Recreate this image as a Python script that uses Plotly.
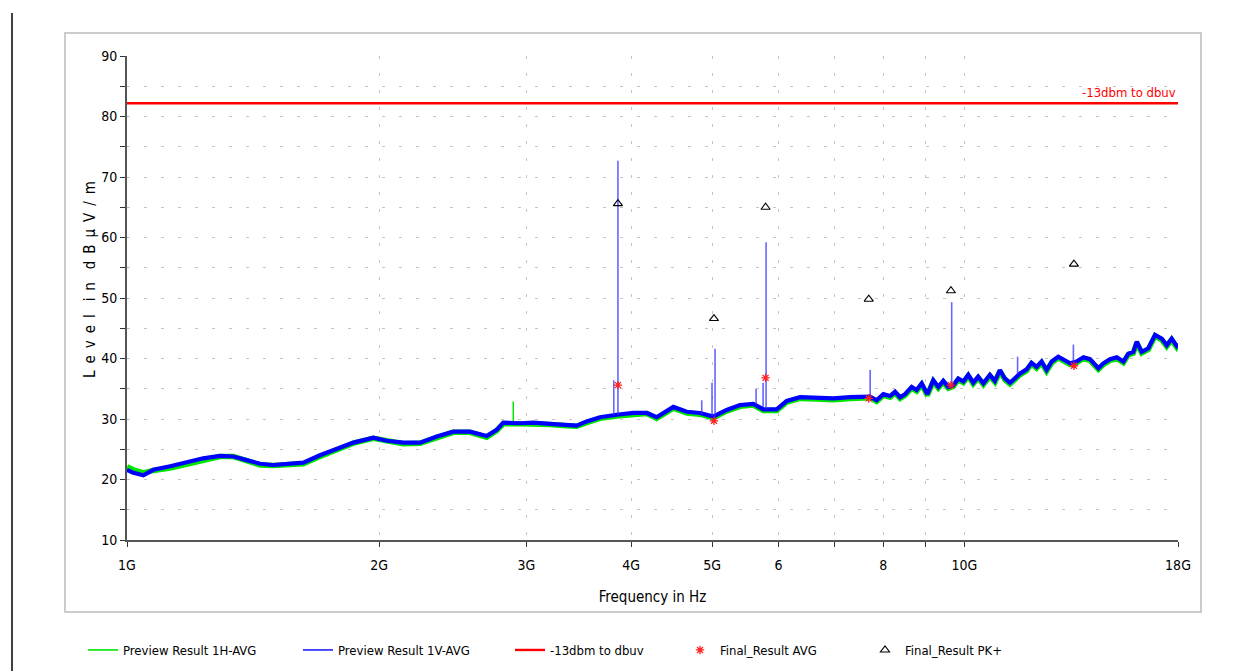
import math
import plotly.graph_objects as go

# ---- data (frequency in GHz, level in dBuV/m) ----
freq_v = [1.000, 1.0175, 1.046, 1.075, 1.126, 1.178, 1.233, 1.291, 1.34, 1.39,
          1.442, 1.495, 1.551, 1.624, 1.70, 1.78, 1.864, 1.969, 2.043, 2.138,
          2.239, 2.344, 2.453, 2.568, 2.689, 2.764, 2.815, 2.947, 3.057, 3.20,
          3.35, 3.444, 3.54, 3.672, 3.845, 4.025, 4.176, 4.292, 4.493, 4.662,
          4.834, 5.015, 5.202, 5.397, 5.598, 5.754, 5.97, 6.137, 6.366, 6.665,
          6.978,
          7.304, 7.508, 7.717, 7.859, 8.005, 8.154, 8.267, 8.381, 8.497, 8.654,
          8.773, 8.895, 9.035, 9.183, 9.311, 9.44, 9.57, 9.703, 9.837, 9.975,
          10.11, 10.25, 10.39, 10.54, 10.73, 10.88, 11.03, 11.18, 11.34, 11.49,
          11.65, 11.87, 12.03, 12.2, 12.37, 12.54, 12.72, 12.95, 13.13, 13.38,
          13.62, 13.88, 14.13, 14.46, 14.66, 14.93, 15.21, 15.49, 15.7, 15.92,
          16.07, 16.29, 16.59, 16.9, 17.21, 17.45, 17.69, 17.93, 18.0]
level_v = [21.6, 21.1, 20.7, 21.6, 22.2, 22.9, 23.5, 23.9, 23.8, 23.2,
           22.6, 22.4, 22.6, 22.8, 24.0, 25.1, 26.1, 26.9, 26.4, 26.1,
           26.1, 27.1, 27.9, 27.9, 27.2, 28.2, 29.4, 29.3, 29.4, 29.2,
           29.0, 28.9, 29.6, 30.3, 30.7, 31.0, 31.0, 30.3, 32.0, 31.2,
           31.0, 30.4, 31.5, 32.3, 32.5, 31.6, 31.6, 33.0, 33.6, 33.5,
           33.4,
           33.6, 33.6, 33.7, 33.1, 34.1, 33.8, 34.5, 33.6, 34.1, 35.3,
           34.8, 35.9, 34.1, 36.4, 35.3, 36.3, 35.3, 35.6, 36.7, 36.2,
           37.3, 36.0, 37.0, 35.9, 37.3, 36.3, 38.1, 36.7, 36.0, 36.7,
           37.5, 38.2, 39.3, 38.6, 39.5, 38.1, 39.5, 40.3, 39.9, 39.2,
           39.5, 40.2, 39.9, 38.4, 39.2, 39.9, 40.2, 39.5, 40.8, 41.1,
           42.8, 41.1, 41.7, 43.9, 43.3, 42.2, 43.3, 42.1, 42.5]
# horizontal polarisation runs almost on top of the vertical one
level_h = [22.1, 21.6, 21.1, 21.5, 21.9, 22.6, 23.3, 23.8, 23.8, 23.0,
           22.4, 22.3, 22.5, 22.6, 23.8, 25.0, 26.0, 26.8, 26.3, 25.9,
           26.0, 27.0, 27.8, 27.8, 27.0, 28.1, 29.2, 29.2, 29.2, 29.1,
           28.9, 28.8, 29.4, 30.1, 30.5, 30.8, 30.9, 30.1, 31.8, 31.0,
           30.8, 30.2, 31.3, 32.1, 32.3, 31.4, 31.4, 32.8, 33.4, 33.3,
           33.2,
           33.4, 33.4, 33.5, 32.9, 33.9, 33.6, 34.3, 33.4, 33.9, 35.1,
           34.6, 35.7, 33.9, 36.2, 35.1, 36.1, 35.1, 35.4, 36.5, 36.0,
           37.1, 35.8, 36.8, 35.7, 37.1, 36.1, 37.9, 36.5, 35.8, 36.5,
           37.3, 38.0, 39.1, 38.4, 39.3, 37.9, 39.3, 40.1, 39.7, 39.0,
           39.3, 40.0, 39.7, 38.2, 39.0, 39.7, 40.0, 39.3, 40.6, 40.9,
           42.6, 40.9, 41.5, 43.7, 43.1, 42.0, 43.1, 41.9, 42.3]

# narrow emissions seen in the sweeps
spike_v_freq = [3.814, 3.858, 4.858, 4.997, 5.039, 5.641, 5.751, 5.798,
                7.72, 9.66, 11.58, 13.50]
spike_v_peak = [36.4, 72.7, 33.1, 36.0, 41.6, 35.0, 36.0, 59.2,
                38.1, 49.3, 40.3, 42.3]
spike_v_base = [30.6, 30.7, 30.8, 30.5, 30.4, 32.4, 31.9, 31.7,
                33.7, 35.6, 37.4, 39.5]
spike_h_freq = [2.893]
spike_h_peak = [32.9]
spike_h_base = [29.4]

limit_freq = [1.0, 18.0]
limit_level = [82.2, 82.2]
limit_name = "-13dbm to dbuv"

final_freq = [3.858, 5.024, 5.79, 7.69, 9.64, 13.52]
final_avg = [35.6, 29.7, 36.8, 33.4, 35.6, 38.8]
final_pk = [65.6, 46.6, 65.0, 49.8, 51.2, 55.6]

tick_vals = [1, 2, 3, 4, 5, 6, 7, 8, 9, 10, 18]
tick_text = ["1G", "2G", "3G", "4G", "5G", "6", "", "8", "", "10G", "18G"]

FONT = "Liberation Sans Narrow, Arial Narrow, DejaVu Sans Condensed, Arial, sans-serif"
GRID = "#c4c4c4"
GREEN = "#00e600"
BLUE = "#0000ff"
RED = "#ff0000"
W, H = 1248, 671
L, R, T, B = 127, 1178, 56, 540


def spikes(f, peak, base):
    xs, ys = [], []
    for fi, p, b in zip(f, peak, base):
        xs += [fi, fi, None]
        ys += [b, p, None]
    return xs, ys


fig = go.Figure()

# sweep traces (drawn thick, legend keys added separately with thin lines)
fig.add_trace(go.Scatter(x=freq_v, y=level_h, mode="lines", showlegend=False,
                         line=dict(color=GREEN, width=5.5)))
sx, sy = spikes(spike_h_freq, spike_h_peak, spike_h_base)
fig.add_trace(go.Scatter(x=sx, y=sy, mode="lines", showlegend=False,
                         line=dict(color=GREEN, width=1.5)))
fig.add_trace(go.Scatter(x=freq_v, y=level_v, mode="lines", showlegend=False,
                         line=dict(color=BLUE, width=4.2)))
sx, sy = spikes(spike_v_freq, spike_v_peak, spike_v_base)
fig.add_trace(go.Scatter(x=sx, y=sy, mode="lines", showlegend=False,
                         line=dict(color="rgba(50,50,255,0.75)", width=1.6)))

fig.add_trace(go.Scatter(x=[None], y=[None], mode="lines", name="Preview Result 1H-AVG",
                         line=dict(color=GREEN, width=1.6), legend="legend"))
fig.add_trace(go.Scatter(x=[None], y=[None], mode="lines", name="Preview Result 1V-AVG",
                         line=dict(color=BLUE, width=1.4), legend="legend2"))

fig.add_trace(go.Scatter(x=limit_freq, y=limit_level, mode="lines", name=limit_name,
                         line=dict(color=RED, width=2.4), legend="legend3"))
fig.add_trace(go.Scatter(x=final_freq, y=final_avg, mode="markers", name="Final_Result AVG",
                         marker=dict(symbol="asterisk-open", size=7, color="#ff2020",
                                     line=dict(color="#ff2020", width=1.3)),
                         legend="legend4"))
fig.add_trace(go.Scatter(x=final_freq, y=final_pk, mode="markers", name="Final_Result PK+",
                         marker=dict(symbol="triangle-up-open", size=8, color="#000000",
                                     line=dict(color="#000000", width=1.1)),
                         legend="legend5"))

# limit label at the right end of the line
fig.add_annotation(x=math.log10(limit_freq[-1]), y=limit_level[-1], text=limit_name,
                   xanchor="right", yanchor="bottom", showarrow=False, yshift=1,
                   font=dict(family=FONT, size=13, color=RED))


def px_x(p):
    return (p - L) / (R - L)


def px_y(p):
    return (B - p) / (B - T)


# y axis caption, spaced out letter by letter
ytitle = "\u2009 ".join("Level") + "   " + "\u2009 ".join("in") + "   " + "\u2009 ".join("dBµV/m")
fig.add_annotation(xref="paper", yref="paper", x=px_x(90), y=px_y(280), text=ytitle,
                   textangle=-90, showarrow=False, xanchor="center", yanchor="middle",
                   font=dict(family=FONT, size=15, color="#000000"))

# light outer frame around the diagram and the black page rule on the left
fig.add_shape(type="rect", xref="paper", yref="paper", layer="below",
              x0=px_x(65), x1=px_x(1201), y0=px_y(612), y1=px_y(33),
              line=dict(color="#cccccc", width=2))
fig.add_shape(type="line", xref="paper", yref="paper",
              x0=px_x(12), x1=px_x(12), y0=px_y(671), y1=px_y(13),
              line=dict(color="#000000", width=1.5))

leg_y = 1 - 650 / H
leg_common = dict(xref="container", yref="container", y=leg_y, yanchor="middle",
                  xanchor="left", orientation="h", bgcolor="rgba(0,0,0,0)",
                  font=dict(family=FONT, size=13, color="#000000"))
legend_x = [83, 298, 510, 680, 865]

fig.update_layout(
    width=W, height=H,
    margin=dict(l=L, r=W - R, t=T, b=H - B),
    paper_bgcolor="white", plot_bgcolor="white",
    font=dict(family=FONT, size=14, color="#000000"),
    legend=dict(x=legend_x[0] / W, **leg_common),
    legend2=dict(x=legend_x[1] / W, **leg_common),
    legend3=dict(x=legend_x[2] / W, **leg_common),
    legend4=dict(x=legend_x[3] / W, **leg_common),
    legend5=dict(x=legend_x[4] / W, **leg_common),
    xaxis=dict(type="log", range=[0, math.log10(18)],
               tickvals=tick_vals, ticktext=tick_text,
               showgrid=True, gridcolor=GRID, griddash="3px,14px", gridwidth=1,
               showline=True, linecolor="#555555", linewidth=2,
               ticks="outside", ticklen=5, tickcolor="#333333", tickwidth=1.2,
               ticklabelstandoff=6, zeroline=False,
               tickfont=dict(family=FONT, size=14),
               title=dict(text="Frequency in Hz", standoff=20,
                          font=dict(family=FONT, size=15))),
    yaxis=dict(range=[10, 90], dtick=10, tick0=10,
               showgrid=True, gridcolor=GRID, griddash="3px,14px", gridwidth=1,
               showline=True, linecolor="#555555", linewidth=2,
               ticks="outside", ticklen=5, tickcolor="#333333", tickwidth=1.2,
               zeroline=False, tickfont=dict(family=FONT, size=14),
               minor=dict(dtick=5, tick0=10, ticks="outside", ticklen=5,
                          tickcolor="#333333", showgrid=True, gridcolor=GRID,
                          griddash="3px,14px")),
)

fig.write_html("out.html")
